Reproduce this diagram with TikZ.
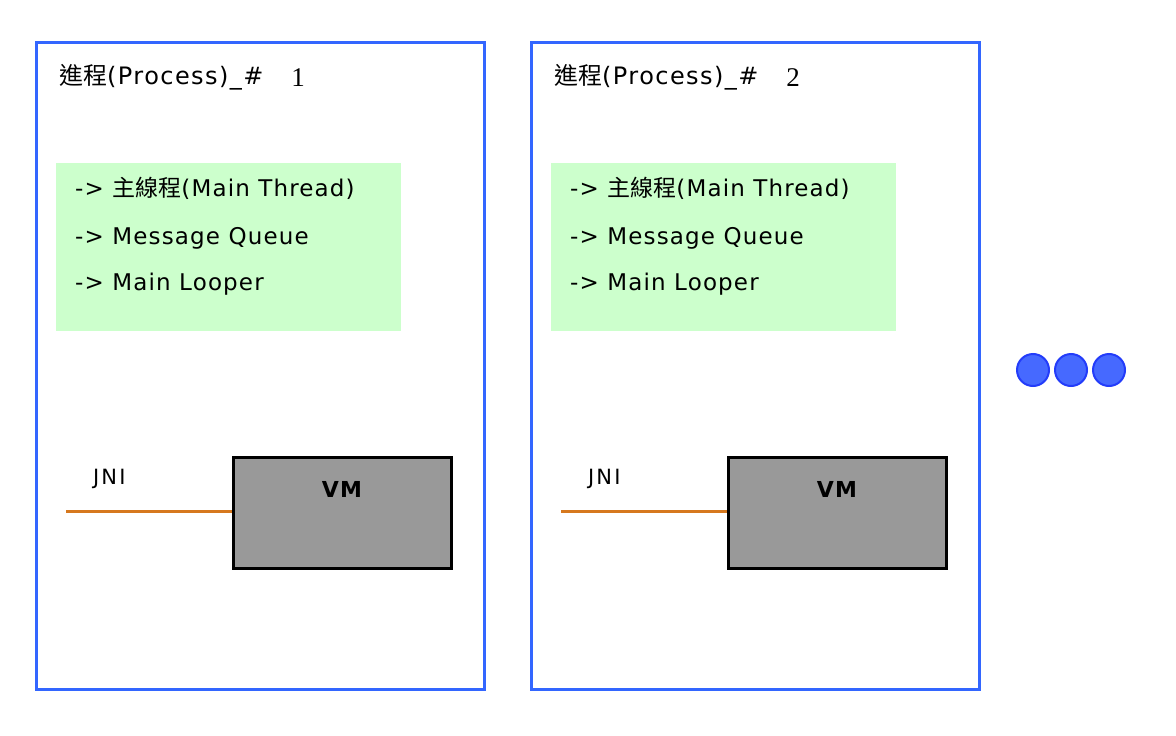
\documentclass[tikz,border=0pt]{standalone}
\usepackage{fontspec}
\setmainfont{DejaVu Sans}[LetterSpace=5]
\newfontfamily\cjk{Noto Sans CJK TC}
\newfontfamily\numfont{Liberation Serif}
\usetikzlibrary{positioning}
\definecolor{procblue}{RGB}{51,102,255}
\definecolor{threadgreen}{RGB}{204,255,204}
\definecolor{vmgray}{RGB}{153,153,153}
\definecolor{jniorange}{RGB}{214,120,30}
\definecolor{dotblue}{RGB}{70,105,255}
\definecolor{dotedge}{RGB}{35,60,250}

\begin{document}
\begin{tikzpicture}[x=1pt, y=-1pt,
    proc/.style={draw=procblue, line width=3pt, minimum width=448pt, minimum height=647pt, inner sep=0pt},
    thread/.style={fill=threadgreen, minimum width=345pt, minimum height=168pt, inner sep=0pt},
    vmbox/.style={draw=black, fill=vmgray, line width=3pt, minimum width=218pt, minimum height=111pt, inner sep=0pt},
    listtext/.style={anchor=west, inner sep=0pt, font=\fontsize{23}{27}\selectfont},
    titletext/.style={anchor=west, inner sep=0pt, font=\fontsize{24}{28}\selectfont\addfontfeature{LetterSpace=6}},
    dotnode/.style={circle, fill=dotblue, draw=dotedge, line width=2pt, minimum size=32pt, inner sep=0pt}]
    \useasboundingbox (0,0) rectangle (1176,736);
    % two processes
    \foreach \i/\dx in {1/0, 2/495} {
        \begin{scope}[shift={(\dx,0)}]
            \node[proc] (proc\i) at (260,366) {};
            \node[titletext] (title\i) at (59,77) {{\cjk 進程}(Process)\_\#};
            \node[inner sep=0pt, font=\fontsize{27}{30}\numfont] (num\i) at (298,78) {\i};
            \node[thread] (thr\i) at (228.5,247) {};
            \node[listtext] (main\i) at (75,188) {-> {\cjk 主線程}(Main Thread)};
            \node[listtext] (queue\i) at (75,238) {-> Message Queue};
            \node[listtext] (loop\i) at (75,284) {-> Main Looper};
            \node[vmbox] (vm\i) at (342,513) {};
            \node[inner sep=0pt, font=\fontsize{22}{26}\bfseries] (vmt\i) at (342,489) {VM};
            \coordinate (jni\i) at (66,511);
            \node[anchor=west, inner sep=0pt, font=\fontsize{21}{24}\selectfont\addfontfeature{LetterSpace=10}] (jnit\i) at (93,479) {JNI};
            \draw[jniorange, line width=3pt] (jni\i) -- (jni\i -| vm\i.west);
        \end{scope}
    }
    % more processes
    \node[dotnode] (dot1) at (1033,370) {};
    \node[dotnode] (dot2) at (1071,370) {};
    \node[dotnode] (dot3) at (1109,370) {};
\end{tikzpicture}
\end{document}
